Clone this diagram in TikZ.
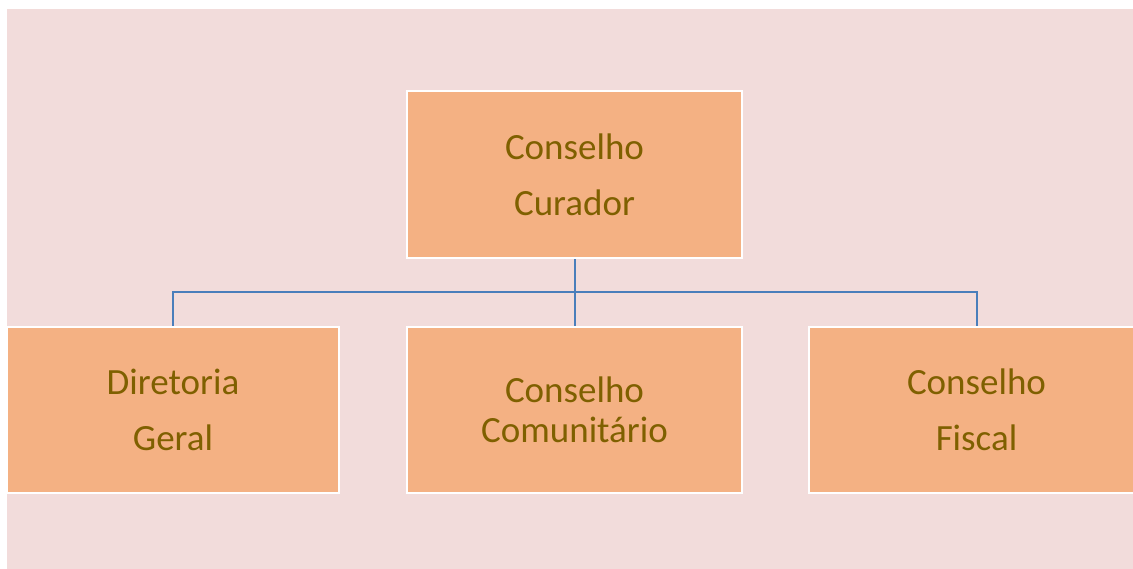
\documentclass[tikz,border=0pt]{standalone}
\usepackage{fontspec}
\setmainfont{Carlito}
\definecolor{bgpink}{RGB}{242,220,219}
\definecolor{boxfill}{RGB}{244,177,131}
\definecolor{txtcol}{RGB}{127,96,0}
\definecolor{linecol}{RGB}{74,126,187}
\tikzset{
  orgbox/.style={rectangle, fill=boxfill, draw=white, line width=2.5pt,
    minimum height=166pt, inner sep=0pt, align=center, text=txtcol,
    font=\fontsize{37}{56}\selectfont},
  conn/.style={draw=linecol, line width=2pt}
}
\begin{document}
\begin{tikzpicture}[x=1pt,y=-1pt]
\useasboundingbox (0,0) rectangle (1133,569);
\fill[white] (0,0) rectangle (1133,569);
\fill[bgpink] (7,9) rectangle (1133,569);
\begin{scope}
\clip (0,0) rectangle (1133,569);
\node[orgbox, minimum width=335pt, minimum height=167pt] (top) at (574.5,174.5) {Conselho\\Curador};
\node[orgbox, minimum width=332pt] (left) at (173,410) {Diretoria\\Geral};
\node[orgbox, minimum width=335pt, font=\fontsize{37}{40}\selectfont] (mid) at (574.5,410) {Conselho\\Comunitário};
\node[orgbox, minimum width=335pt] (right) at (976.5,410) {Conselho\\Fiscal};
\coordinate (bus) at (574.5,292);
\draw[conn] (left.north) |- (bus) -| (right.north);
\draw[conn] (top.south) -- (mid.north);
\end{scope}
\end{tikzpicture}
\end{document}
